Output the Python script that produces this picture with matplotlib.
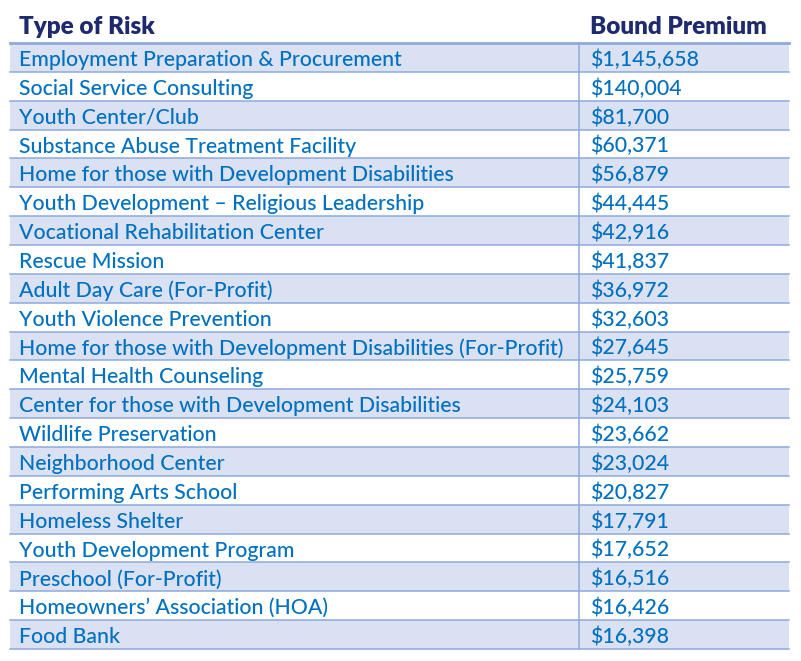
import matplotlib
matplotlib.use("Agg")
import matplotlib.pyplot as plt
from matplotlib.patches import Rectangle

plt.rcParams['font.family'] = ['Lato', 'DejaVu Sans']

# data
risk_types = [
    'Employment Preparation & Procurement',
    'Social Service Consulting',
    'Youth Center/Club',
    'Substance Abuse Treatment Facility',
    'Home for those with Development Disabilities',
    'Youth Development \u2013 Religious Leadership',
    'Vocational Rehabilitation Center',
    'Rescue Mission',
    'Adult Day Care (For-Profit)',
    'Youth Violence Prevention',
    'Home for those with Development Disabilities (For-Profit)',
    'Mental Health Counseling',
    'Center for those with Development Disabilities',
    'Wildlife Preservation',
    'Neighborhood Center',
    'Performing Arts School',
    'Homeless Shelter',
    'Youth Development Program',
    'Preschool (For-Profit)',
    'Homeowners\u2019 Association (HOA)',
    'Food Bank',
]
premiums = [1145658, 140004, 81700, 60371, 56879, 44445, 42916, 41837, 36972,
            32603, 27645, 25759, 24103, 23662, 23024, 20827, 17791, 17652,
            16516, 16426, 16398]
headers = ['Type of Risk', 'Bound Premium']

# layout (pixels)
W, H = 801, 661
left, right, divider = 10, 789, 579
head_line = 43
row_h = (649 - head_line) / len(risk_types)
col1_x, col2_x = 19, 590

fill_col = '#D9E1F2'
line_col = '#8EA9DB'
body_col = '#0070C0'
head_col = '#1F2A6E'
body_w = 'medium'
head_w = 'heavy'

fig = plt.figure(figsize=(W / 100, H / 100), dpi=100)
ax = fig.add_axes([0, 0, 1, 1])
ax.set_xlim(0, W)
ax.set_ylim(H, 0)
ax.axis('off')

renderer = fig.canvas.get_renderer()


def fit_size(txt, target_w, weight='normal'):
    t = ax.text(0, 0, txt, fontsize=10, fontweight=weight)
    w = t.get_window_extent(renderer=renderer).width
    t.remove()
    return 10 * target_w / w


body_fs = fit_size(risk_types[10], 564 - 19, body_w)
head_fs = fit_size(headers[1], 768 - 590, head_w)

for i, (name, val) in enumerate(zip(risk_types, premiums)):
    top = head_line + i * row_h
    if i % 2 == 0:
        ax.add_patch(Rectangle((left, top), right - left, row_h, facecolor=fill_col,
                               edgecolor='none', zorder=1))
    ax.plot([left, right], [top + row_h, top + row_h], color=line_col, lw=1.1, zorder=2)
    base = top + 23
    ax.text(col1_x, base, name, fontsize=body_fs, fontweight=body_w, color=body_col,
            va='baseline', zorder=3)
    ax.text(col2_x, base, f'${val:,}', fontsize=body_fs, fontweight=body_w, color=body_col,
            va='baseline', zorder=3)

ax.plot([divider, divider], [head_line, head_line + row_h * len(risk_types)],
        color=line_col, lw=1.1, zorder=2)
ax.plot([left, right], [head_line, head_line], color=line_col, lw=2, zorder=2)

ax.text(col1_x, 34.5, headers[0], fontsize=head_fs, fontweight=head_w, color=head_col,
        va='baseline')
ax.text(col2_x, 34.5, headers[1], fontsize=head_fs, fontweight=head_w, color=head_col,
        va='baseline')

fig.savefig('out.png', dpi=100)
plt.close(fig)
